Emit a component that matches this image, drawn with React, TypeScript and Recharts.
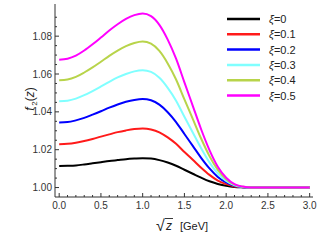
import { LineChart, Line, XAxis, YAxis } from 'recharts';

// f2(z) vs sqrt(z) for several xi values
const sqrtZ = [
  0, 0.1, 0.2, 0.3, 0.4, 0.5, 0.6, 0.7, 0.8, 0.9, 1.0, 1.1, 1.2, 1.3, 1.4, 1.5,
  1.6, 1.7, 1.8, 1.9, 2.0, 2.1, 2.2, 2.3, 2.4, 2.5, 2.6, 2.7, 2.8, 2.9, 3.0,
];

const xi0 = [
  1.0114, 1.0115, 1.0117, 1.0122, 1.0128, 1.0134, 1.014, 1.0145, 1.015, 1.0153, 1.0155,
  1.0153, 1.0145, 1.0132, 1.0115, 1.0094, 1.0073, 1.0052, 1.0033, 1.0019, 1.0009, 1.0003,
  1.0001, 1, 1, 1, 1, 1, 1, 1, 1,
];
const xi1 = [
  1.0229, 1.0231, 1.0237, 1.0246, 1.0257, 1.0269, 1.0281, 1.0293, 1.0302, 1.0309, 1.0312,
  1.0307, 1.0292, 1.0265, 1.0231, 1.0188, 1.0147, 1.0105, 1.0067, 1.0037, 1.0018, 1.0006,
  1.0002, 1, 1, 1, 1, 1, 1, 1, 1,
];
const xi2 = [
  1.0344, 1.0346, 1.0355, 1.0368, 1.0385, 1.0403, 1.0422, 1.0439, 1.0453, 1.0463, 1.0468,
  1.0461, 1.0438, 1.0398, 1.0346, 1.0283, 1.022, 1.0157, 1.0101, 1.0056, 1.0027, 1.0009,
  1.0002, 1, 1, 1, 1, 1, 1, 1, 1,
];
const xi3 = [
  1.0456, 1.0459, 1.047, 1.0488, 1.051, 1.0534, 1.0559, 1.0582, 1.06, 1.0614, 1.062,
  1.0611, 1.058, 1.0527, 1.0459, 1.0374, 1.0291, 1.0208, 1.0133, 1.0074, 1.0035, 1.0012,
  1.0003, 1, 1, 1, 1, 1, 1, 1, 1,
];
const xi4 = [
  1.0567, 1.0571, 1.0585, 1.0608, 1.0635, 1.0665, 1.0696, 1.0724, 1.0747, 1.0764, 1.0772,
  1.076, 1.0722, 1.0656, 1.0571, 1.0466, 1.0363, 1.0259, 1.0166, 1.0093, 1.0044, 1.0015,
  1.0004, 1, 1, 1, 1, 1, 1, 1, 1,
];
const xi5 = [
  1.0676, 1.0681, 1.0697, 1.0724, 1.0757, 1.0793, 1.083, 1.0863, 1.0891, 1.0911, 1.092,
  1.0906, 1.086, 1.0782, 1.0681, 1.0556, 1.0432, 1.0308, 1.0198, 1.011, 1.0052, 1.0018,
  1.0005, 1, 1, 1, 1, 1, 1, 1, 1,
];

const seriesNames = ['0', '0.1', '0.2', '0.3', '0.4', '0.5'];
const seriesValues = [xi0, xi1, xi2, xi3, xi4, xi5];
const seriesColors = ['#000000', '#ff1a1a', '#0000ff', '#80ffff', '#b8d44a', '#ff00ff'];

const xMajor = [0, 0.5, 1, 1.5, 2, 2.5, 3];
const xTicks = Array.from({ length: 31 }, (_, i) => i / 10);
const yMajor = [1.0, 1.02, 1.04, 1.06, 1.08];
const yTicks = Array.from({ length: 19 }, (_, i) => 1.0 + i * 0.005);

const FRAME = '#333';
const FONT = "'Liberation Sans', Arial, sans-serif";

const isMajor = (list: number[], v: number) => list.some((m) => Math.abs(m - v) < 1e-6);

const data = sqrtZ.map((x, i) => {
  const row: Record<string, number> = { x };
  seriesValues.forEach((vals, k) => {
    row['s' + k] = vals[i];
  });
  return row;
});

function BottomTick({ x, y, payload }: any) {
  const major = isMajor(xMajor, payload.value);
  return (
    <g>
      <line x1={x} x2={x} y1={y} y2={y - (major ? 4 : 2)} stroke={FRAME} />
      {major && (
        <text x={x} y={y + 12} textAnchor="middle" fontSize={10} fill={FRAME} fontFamily={FONT}>
          {payload.value.toFixed(1)}
        </text>
      )}
    </g>
  );
}

function TopTick({ x, y, payload }: any) {
  const major = isMajor(xMajor, payload.value);
  return <line x1={x} x2={x} y1={y} y2={y + (major ? 4 : 2)} stroke={FRAME} />;
}

function LeftTick({ x, y, payload }: any) {
  const major = isMajor(yMajor, payload.value);
  return (
    <g>
      <line x1={x} x2={x + (major ? 4 : 2)} y1={y} y2={y} stroke={FRAME} />
      {major && (
        <text x={x - 3} y={y + 3.5} textAnchor="end" fontSize={10} fill={FRAME} fontFamily={FONT}>
          {payload.value.toFixed(2)}
        </text>
      )}
    </g>
  );
}

function RightTick({ x, y, payload }: any) {
  const major = isMajor(yMajor, payload.value);
  return <line x1={x} x2={x - (major ? 4 : 2)} y1={y} y2={y} stroke={FRAME} />;
}

export default function App() {
  return (
    <div style={{ position: 'absolute', left: 0, top: 0, width: 318, height: 241, background: '#fff' }}>
      <LineChart width={318} height={241} data={data} margin={{ top: 4, right: 5, bottom: 0, left: 0 }}>
        <XAxis
          dataKey="x"
          type="number"
          domain={[-0.05, 3.04]}
          allowDataOverflow
          ticks={xTicks}
          interval={0}
          tickSize={0}
          tickMargin={0}
          tick={<BottomTick />}
          height={44}
          stroke={FRAME}
          label={{
            content: () => (
              <g fill="#222" fontFamily={FONT}>
                <text x={156} y={231} fontSize={16}>√</text>
                <line x1={165} x2={173} y1={218.5} y2={218.5} stroke="#222" strokeWidth={0.9} />
                <text x={166} y={230} fontSize={12} fontStyle="italic">z</text>
                <text x={180} y={230} fontSize={11}>[GeV]</text>
              </g>
            ),
          }}
        />
        <XAxis
          xAxisId="top"
          dataKey="x"
          type="number"
          orientation="top"
          domain={[-0.05, 3.04]}
          allowDataOverflow
          ticks={xTicks}
          interval={0}
          tickSize={0}
          tickMargin={0}
          tick={<TopTick />}
          height={0}
          stroke={FRAME}
        />
        <YAxis
          type="number"
          domain={[0.995, 1.097]}
          allowDataOverflow
          ticks={yTicks}
          interval={0}
          tickSize={0}
          tickMargin={0}
          tick={<LeftTick />}
          width={55}
          stroke={FRAME}
          label={{
            content: () => (
              <text
                x={0}
                y={0}
                transform="translate(34 99) rotate(-90)"
                textAnchor="middle"
                fill="#222"
                fontFamily={FONT}
                fontSize={12}
              >
                <tspan fontStyle="italic">f</tspan>
                <tspan fontSize={8} dx={1.5} dy={3}>2</tspan>
                <tspan dy={-3}>(</tspan>
                <tspan fontStyle="italic">z</tspan>
                <tspan>)</tspan>
              </text>
            ),
          }}
        />
        <YAxis
          yAxisId="right"
          type="number"
          orientation="right"
          domain={[0.995, 1.097]}
          allowDataOverflow
          ticks={yTicks}
          interval={0}
          tickSize={0}
          tickMargin={0}
          tick={<RightTick />}
          width={0}
          stroke={FRAME}
        />
        {seriesNames.map((name, k) => (
          <Line
            key={name}
            dataKey={'s' + k}
            type="monotone"
            stroke={seriesColors[k]}
            strokeWidth={2}
            dot={false}
            isAnimationActive={false}
          />
        ))}
      </LineChart>
      <svg
        width={90}
        height={100}
        style={{ position: 'absolute', left: 222, top: 8 }}
        fontFamily={FONT}
        fontSize={11}
      >
        {seriesNames.map((name, k) => (
          <g key={name} transform={`translate(0 ${11 + k * 15.3})`}>
            <line x1={5} x2={38} y1={0} y2={0} stroke={seriesColors[k]} strokeWidth={2.5} />
            <text x={47} y={4} fill="#222">
              <tspan fontStyle="italic">ξ</tspan>={name}
            </text>
          </g>
        ))}
      </svg>
    </div>
  );
}
